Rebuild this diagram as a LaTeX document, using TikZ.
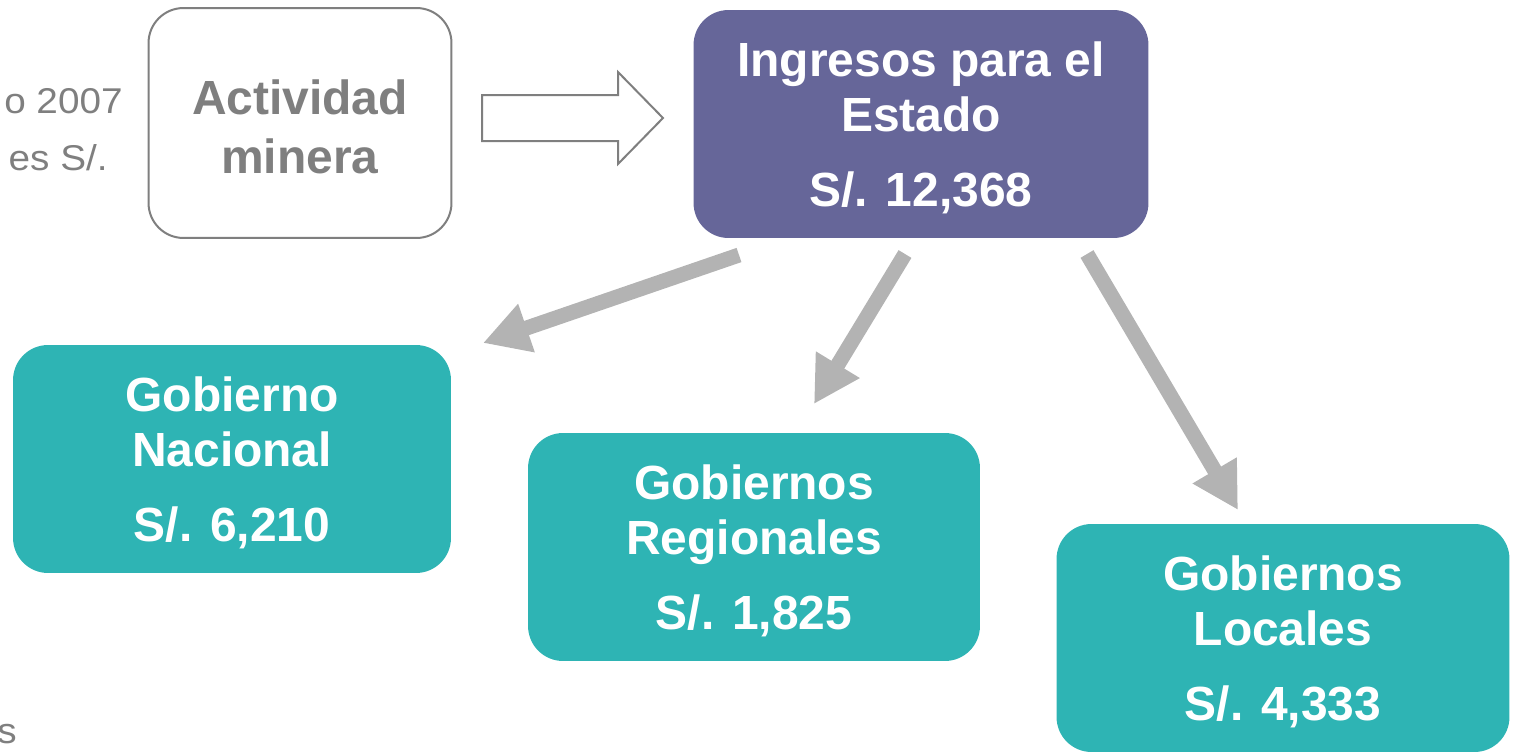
\documentclass[tikz,border=0pt]{standalone}
\usepackage{fontspec}
\setmainfont{Liberation Sans}
\usetikzlibrary{arrows.meta}

\definecolor{morado}{HTML}{666699}
\definecolor{turquesa}{HTML}{2EB4B4}
\definecolor{grisflecha}{HTML}{B3B3B3}
\definecolor{gristexto}{HTML}{7F7F7F}

\newcommand{\alto}{\rule{0pt}{0.86cm}}

\tikzset{
  caja/.style={rounded corners=0.7cm, minimum height=4.56cm, align=center,
    inner sep=0pt, font=\bfseries\fontsize{27.3}{31.3}\selectfont},
  gobierno/.style={caja, fill=turquesa, text=white},
  reparto/.style={line width=0.3cm, grisflecha,
    -{Triangle[length=0.92cm, width=0.96cm]}},
  nota/.style={text=gristexto, inner sep=0pt, font=\fontsize{20.4}{24}\selectfont}
}

\begin{document}
\begin{tikzpicture}[x=0.02cm, y=-0.02cm]
\useasboundingbox (0,0) rectangle (1515,751);

% texto cortado a la izquierda
\node[nota, anchor=base east] (anio) at (123,113) {\scalebox{1.08}[1]{o 2007}};
\node[nota, anchor=base east] (unid) at (108,170) {\scalebox{1.08}[1]{es S/.}};
\node[nota, anchor=base west] (fuente) at (-3,743) {\scalebox{1.08}[1]{s}};

% cajas
\node[caja, draw=gristexto, line width=0.04cm, fill=white, text=gristexto,
  minimum width=6.06cm, minimum height=4.6cm] (act) at (300,123) {\alto Actividad\\[0.08cm]minera};
\node[caja, fill=morado, text=white, minimum width=9.1cm] (ing) at (921,124)
  {\alto Ingresos para el\\Estado\\[0.4cm]S/. 12,368};
\node[gobierno, minimum width=8.76cm] (nac) at (232,459) {\alto Gobierno\\Nacional\\[0.4cm]S/. 6,210};
\node[gobierno, minimum width=9.04cm] (reg) at (754,547) {\alto Gobiernos\\Regionales\\[0.4cm]S/. 1,825};
\node[gobierno, minimum width=9.06cm] (loc) at (1283,638) {\alto Gobiernos\\Locales\\[0.4cm]S/. 4,333};

% flecha hueca
\draw[gristexto, line width=0.04cm, fill=white] (482,95) -- (618,95) -- (618,72) -- (663,118)
  -- (618,164) -- (618,141) -- (482,141) -- cycle;

% flechas de reparto
\coordinate (s1) at (739,255);
\coordinate (t1) at (483,343);
\coordinate (s2) at (905,254);
\coordinate (t2) at (814,404);
\coordinate (s3) at (1087,254);
\coordinate (t3) at (1238,510);
\draw[reparto] (s1) -- (t1);
\draw[reparto] (s2) -- (t2);
\draw[reparto] (s3) -- (t3);

\end{tikzpicture}
\end{document}
